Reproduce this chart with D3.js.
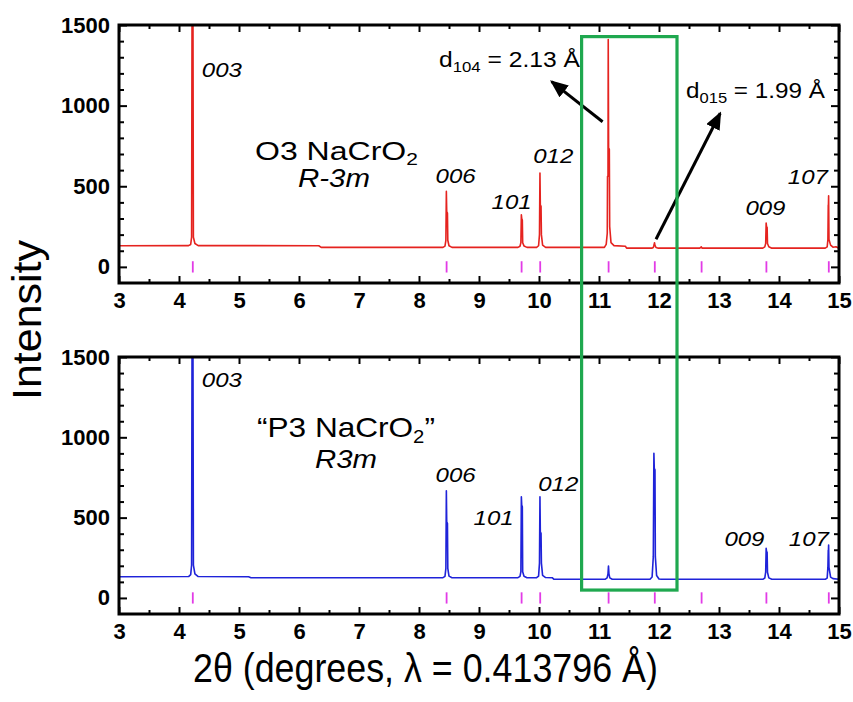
<!DOCTYPE html>
<html>
<head>
<meta charset="utf-8">
<script src="https://cdn.jsdelivr.net/npm/d3@7"></script>
<style>
  body { margin: 0; background: #fff; }
  svg { display: block; }
</style>
</head>
<body>
<svg id="chart" width="853" height="702"></svg>
<script>
// ---- data -------------------------------------------------------------
// Bragg reflection positions (2θ, degrees), marked under both patterns
const reflections = [4.23, 8.46, 9.71, 10.02, 11.16, 11.93, 12.71, 13.79, 14.83];

// axis tick labels
const xTicks = [3, 4, 5, 6, 7, 8, 9, 10, 11, 12, 13, 14, 15];
const yTicks = [0, 500, 1000, 1500];

// O3 NaCrO2 diffraction trace (2θ, intensity)
const o3Angle = [
  3.00, 4.16, 4.195, 4.210, 4.218, 4.232, 4.240, 4.265, 4.32,
  6.33, 6.37,
  8.40, 8.433, 8.448, 8.456, 8.462, 8.474, 8.480, 8.50, 8.55,
  9.65, 9.683, 9.698, 9.706, 9.712, 9.722, 9.728, 9.75, 9.80,
  9.96, 9.993, 10.008, 10.016, 10.022, 10.034, 10.040, 10.06, 10.11,
  11.09, 11.12, 11.138, 11.142, 11.150, 11.154, 11.160, 11.172, 11.178, 11.20, 11.25, 11.44, 11.46,
  11.88, 11.905, 11.918, 11.925, 11.932, 11.95, 11.99,
  12.68, 12.705, 12.72,
  13.73, 13.763, 13.778, 13.786, 13.792, 13.802, 13.808, 13.83, 13.88,
  14.77, 14.803, 14.815, 14.821, 14.824, 14.827, 14.833, 14.86, 14.90, 14.95, 15.00
];
const o3Intensity = [
  131, 132, 139, 184, 1700, 1700, 184, 145, 132,
  131, 121,
  121, 129, 165, 468, 343, 333, 165, 131, 121,
  121, 128, 150, 323, 300, 290, 150, 130, 121,
  121, 131, 200, 582, 385, 375, 200, 135, 121,
  121, 140, 210, 561, 561, 1410, 739, 729, 250, 150, 132, 128, 116,
  116, 120, 135, 150, 135, 120, 116,
  116, 124, 116,
  116, 124, 145, 272, 250, 245, 145, 125, 116,
  116, 124, 170, 385, 385, 441, 170, 135, 122, 125, 116
];

// "P3 NaCrO2" diffraction trace (2θ, intensity)
const p3Angle = [
  3.00, 4.16, 4.195, 4.210, 4.218, 4.232, 4.240, 4.265, 4.32,
  5.16, 5.20,
  8.40, 8.433, 8.448, 8.456, 8.462, 8.474, 8.480, 8.50, 8.55,
  9.65, 9.683, 9.698, 9.706, 9.712, 9.722, 9.728, 9.75, 9.80,
  9.96, 9.993, 10.008, 10.016, 10.022, 10.034, 10.040, 10.06, 10.11,
  10.22, 10.25,
  11.10, 11.135, 11.150, 11.158, 11.166, 11.18, 11.22,
  11.85, 11.885, 11.905, 11.915, 11.921, 11.933, 11.939, 11.96, 12.00, 12.04,
  13.73, 13.763, 13.778, 13.786, 13.792, 13.802, 13.808, 13.83, 13.88,
  14.77, 14.803, 14.815, 14.821, 14.824, 14.827, 14.833, 14.86, 14.90, 15.00
];
const p3Intensity = [
  132, 133, 145, 205, 1700, 1700, 205, 150, 133,
  132, 126,
  126, 134, 184, 667, 474, 464, 184, 136, 126,
  126, 134, 163, 630, 578, 568, 163, 135, 126,
  126, 136, 217, 630, 412, 402, 217, 140, 127,
  126, 116,
  116, 125, 150, 199, 150, 125, 116,
  116, 130, 257, 900, 807, 797, 257, 140, 118, 116,
  116, 124, 160, 309, 290, 285, 160, 125, 116,
  116, 124, 190, 298, 298, 329, 190, 130, 120, 116
];

// Miller indices labelled on each pattern and the reflection they belong to
const peakNames  = ['003', '006', '101', '012', '009', '107'];
const peakAngles = [4.23, 8.46, 9.71, 10.02, 13.79, 14.83];

// ---- layout -----------------------------------------------------------
const FONT = '"Liberation Sans", Arial, Helvetica, sans-serif';
const RED = '#e5231f', BLUE = '#1f23d9', TICKMAG = '#e23be6', GREEN = '#1fa84f';
const X0 = 119, X1 = 839;

const svg = d3.select('#chart');
const x = d3.scaleLinear().domain([3, 15]).range([X0, X1]);

const panels = [
  { id: 'o3', top: 25, bottom: 283, color: RED, angle: o3Angle, inten: o3Intensity,
    // label placement: [pixel offset from peak, baseline intensity]
    labels: [[9, 1178], [-11, 520], [-30, 359], [-7, 644], [-21, 322], [-41, 514]] },
  { id: 'p3', top: 357, bottom: 614, color: BLUE, angle: p3Angle, inten: p3Intensity,
    labels: [[9, 1313], [-11, 722], [-48, 454], [-2, 666], [-42, 323], [-40, 323]] }
];
panels.forEach(p => {
  p.y = d3.scaleLinear().domain([-100, 1500]).range([p.bottom, p.top]);
});

const defs = svg.append('defs');
panels.forEach(p => {
  defs.append('clipPath').attr('id', 'clip-' + p.id)
    .append('rect').attr('x', X0).attr('y', p.top)
    .attr('width', X1 - X0).attr('height', p.bottom - p.top);
});
defs.append('marker').attr('id', 'head')
  .attr('markerUnits', 'userSpaceOnUse')
  .attr('markerWidth', 18).attr('markerHeight', 15)
  .attr('refX', 16).attr('refY', 7.5).attr('orient', 'auto')
  .append('path').attr('d', 'M0,0 L18,7.5 L0,15 Z').attr('fill', '#000');

// rich text helper: parts are strings or {sub: '...'}; optional width fit
function richText(parent, px, py, parts, o) {
  const t = parent.append('text')
    .attr('font-family', FONT)
    .attr('font-size', o.size)
    .attr('font-style', o.italic ? 'italic' : 'normal')
    .attr('font-weight', o.bold ? 'bold' : 'normal')
    .attr('text-anchor', o.anchor || 'start')
    .attr('fill', '#000');
  let shifted = 0;
  parts.forEach(part => {
    if (typeof part === 'string') {
      t.append('tspan').attr('dy', -shifted).text(part);
      shifted = 0;
    } else {
      t.append('tspan').attr('dy', o.subDy).attr('font-size', o.subSize).text(part.sub);
      shifted = o.subDy;
    }
  });
  let sx = o.sx || 1;
  if (o.width) sx = o.width / t.node().getComputedTextLength();
  const rot = o.rotate ? ` rotate(${o.rotate})` : '';
  t.attr('transform', `translate(${px},${py})${rot} scale(${sx},1)`);
  return t;
}

const intFmt = d3.format('d');

panels.forEach(p => {
  const g = svg.append('g');

  // reflection markers
  g.append('g').selectAll('line').data(reflections).join('line')
    .attr('x1', d => x(d)).attr('x2', d => x(d))
    .attr('y1', p.y(35)).attr('y2', p.y(-35))
    .attr('stroke', TICKMAG).attr('stroke-width', 1.8);

  // diffraction trace
  const pts = p.angle.map((a, k) => [a, p.inten[k]]);
  g.append('path')
    .attr('clip-path', `url(#clip-${p.id})`)
    .attr('d', d3.line().x(d => x(d[0])).y(d => p.y(d[1]))(pts))
    .attr('fill', 'none').attr('stroke', p.color)
    .attr('stroke-width', 1.6).attr('stroke-linejoin', 'round');

  // axes: ticks pointing inward on all four sides
  const tidy = sel => sel.call(s => s.select('.domain').remove())
    .call(s => s.selectAll('line').attr('stroke', '#000').attr('stroke-width', 2));
  const labelStyle = s => s.selectAll('text')
    .attr('font-family', FONT).attr('font-size', 22).attr('font-weight', 'bold').attr('fill', '#000');

  g.append('g').attr('transform', `translate(0,${p.bottom})`)
    .call(d3.axisBottom(x).tickValues(xTicks).tickFormat(intFmt)
      .tickSizeInner(-7).tickSizeOuter(0).tickPadding(9))
    .call(tidy).call(labelStyle);
  g.append('g').attr('transform', `translate(0,${p.bottom})`)
    .call(d3.axisBottom(x).tickValues(d3.range(3.5, 15, 1)).tickSize(-4).tickFormat(''))
    .call(tidy);
  g.append('g').attr('transform', `translate(0,${p.top})`)
    .call(d3.axisTop(x).tickValues(xTicks).tickSize(-7).tickFormat(''))
    .call(tidy);
  g.append('g').attr('transform', `translate(0,${p.top})`)
    .call(d3.axisTop(x).tickValues(d3.range(3.5, 15, 1)).tickSize(-4).tickFormat(''))
    .call(tidy);

  const yMinor = d3.range(100, 1500, 100).filter(v => v % 500 !== 0);
  g.append('g').attr('transform', `translate(${X0},0)`)
    .call(d3.axisLeft(p.y).tickValues(yTicks).tickFormat(intFmt)
      .tickSizeInner(-8).tickSizeOuter(0).tickPadding(9))
    .call(tidy).call(labelStyle);
  g.append('g').attr('transform', `translate(${X0},0)`)
    .call(d3.axisLeft(p.y).tickValues(yMinor).tickSize(-5).tickFormat(''))
    .call(tidy);
  g.append('g').attr('transform', `translate(${X1},0)`)
    .call(d3.axisRight(p.y).tickValues(yTicks).tickSize(-8).tickFormat(''))
    .call(tidy);
  g.append('g').attr('transform', `translate(${X1},0)`)
    .call(d3.axisRight(p.y).tickValues(yMinor).tickSize(-5).tickFormat(''))
    .call(tidy);

  // frame
  g.append('rect').attr('x', X0).attr('y', p.top)
    .attr('width', X1 - X0).attr('height', p.bottom - p.top)
    .attr('fill', 'none').attr('stroke', '#000').attr('stroke-width', 3);

  // Miller index labels
  peakNames.forEach((name, k) => {
    const [dx, level] = p.labels[k];
    richText(g, x(peakAngles[k]) + dx, p.y(level), [name], { size: 20, italic: true, sx: 1.2 });
  });
});

const upper = panels[0], lower = panels[1];

// phase names and space groups
richText(svg, 255, 160, ['O3 NaCrO', { sub: '2' }], { size: 26, subSize: 17, subDy: 5, width: 163 });
richText(svg, 298, 187, ['R-3m'], { size: 25, italic: true, width: 72 });
richText(svg, 257, 437, ['\u201cP3 NaCrO', { sub: '2' }, '\u201d'], { size: 28, subSize: 18, subDy: 6, width: 178 });
richText(svg, 315, 468, ['R3m'], { size: 26, italic: true, width: 62 });

// d-spacing callouts
richText(svg, 439, 67, ['d', { sub: '104' }, ' = 2.13 \u00c5'], { size: 22, subSize: 15, subDy: 5, width: 141 });
richText(svg, 686, 98, ['d', { sub: '015' }, ' = 1.99 \u00c5'], { size: 22, subSize: 15, subDy: 5, width: 139 });

const arrows = [
  { from: [11.06, 900], to: [10.21, 1149] },
  { from: [11.95, 171], to: [13.02, 953] }
];
svg.append('g').selectAll('line').data(arrows).join('line')
  .attr('x1', d => x(d.from[0])).attr('y1', d => upper.y(d.from[1]))
  .attr('x2', d => x(d.to[0])).attr('y2', d => upper.y(d.to[1]))
  .attr('stroke', '#000').attr('stroke-width', 3)
  .attr('marker-end', 'url(#head)');

// highlight box spanning both patterns around the 104 / 015 region
svg.append('rect')
  .attr('x', x(10.71)).attr('y', upper.y(1428))
  .attr('width', x(12.30) - x(10.71))
  .attr('height', lower.y(49) - upper.y(1428))
  .attr('fill', 'none').attr('stroke', GREEN).attr('stroke-width', 3.2);

// axis titles
richText(svg, 41, 320, ['Intensity'], { size: 40, anchor: 'middle', rotate: -90, width: 160 });
richText(svg, 193, 682, ['2\u03b8 (degrees, \u03bb = 0.413796 \u00c5)'], { size: 40, width: 465 });
</script>
</body>
</html>
